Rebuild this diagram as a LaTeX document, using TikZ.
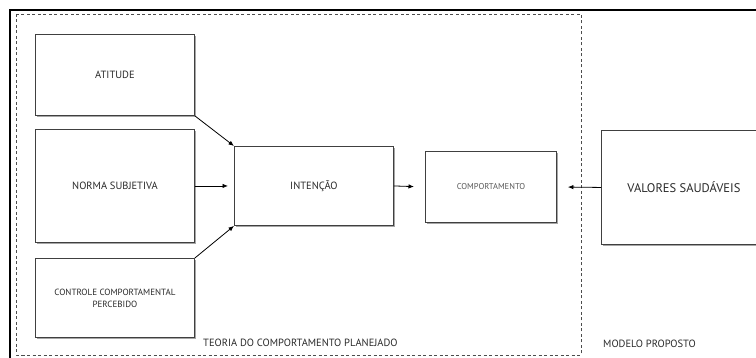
\documentclass[tikz,border=0pt]{standalone}
\usepackage{fontspec}
\setmainfont{PT Sans}
\usetikzlibrary{arrows.meta,shadows}
\definecolor{boxline}{HTML}{404040}
\definecolor{txt}{HTML}{2A2A2A}
\tikzset{
  box/.style={draw=boxline, line width=0.9pt, fill=white, anchor=north west,
    inner sep=2pt, align=center, text=txt, font=\fontsize{10.5}{13}\selectfont,
    drop shadow={shadow xshift=1.6pt, shadow yshift=-1.6pt, opacity=0.35, fill=black}},
  arr/.style={draw=black, line width=0.8pt, -{Latex[length=5.5pt,width=4.5pt]}},
  lbl/.style={anchor=west, inner sep=0pt, text=txt, font=\fontsize{10.5}{13}\selectfont},
}
\begin{document}
\begin{tikzpicture}[x=1pt,y=-1pt]
\useasboundingbox (0,0) rectangle (756,358);
\clip (0,0) rectangle (756,358);
% outer frame
\draw[black, line width=1.8pt] (10,358) -- (10,10) -- (756,10);
% dashed region
\draw[draw=black!70, line width=0.8pt, dash pattern=on 3pt off 2.5pt] (16,14) rectangle (581,355);
% boxes
\node[box, minimum width=159pt, minimum height=81pt] (att) at (35,34) {ATITUDE};
\node[box, minimum width=159pt, minimum height=113pt] (norm) at (35,129) {NORMA SUBJETIVA};
\node[box, minimum width=159pt, minimum height=79pt, font=\fontsize{9}{12}\selectfont] (ctrl) at (35,258) {CONTROLE COMPORTAMENTAL\\PERCEBIDO};
\node[box, minimum width=159pt, minimum height=79pt] (int) at (234,146) {INTENÇÃO};
\node[box, minimum width=131pt, minimum height=71pt, font=\fontsize{8.5}{11}\selectfont, text=black!65] (comp) at (425,151) {COMPORTAMENTO};
\node[box, minimum width=165pt, minimum height=114pt, font=\fontsize{12.5}{15}\selectfont] (val) at (601,130) {VALORES SAUDÁVEIS};
% arrows
\draw[arr] (att.south east) -- (int.north west);
\draw[arr, shorten >=6pt] (norm.east) -- (int.west);
\draw[arr] (ctrl.north east) -- (int.south west);
\draw[arr, shorten >=11pt] (int.east) -- (comp.west);
\draw[arr, shorten >=11pt] (val.west) -- (comp.east);
% labels
\node[lbl] (tl) at (203,343) {TEORIA DO COMPORTAMENTO PLANEJADO};
\node[lbl] (ml) at (603,344) {MODELO PROPOSTO};
\end{tikzpicture}
\end{document}
